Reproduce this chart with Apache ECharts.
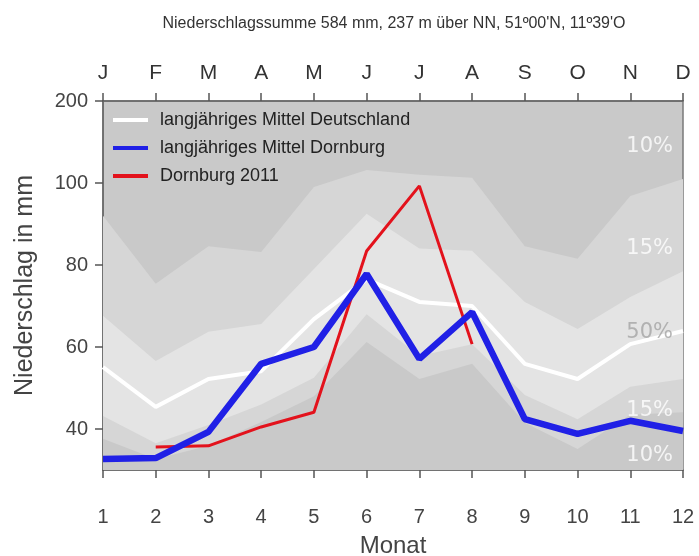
<!DOCTYPE html>
<html>
<head>
<meta charset="utf-8">
<script src="https://cdn.jsdelivr.net/npm/echarts@6/dist/echarts.min.js"></script>
<style>
  html, body { margin: 0; padding: 0; background: #ffffff; }
  #chart { width: 699px; height: 556px; }
</style>
</head>
<body>
<div id="chart"></div>
<script>
// Monthly precipitation, Dornburg (mm)
const months = [1, 2, 3, 4, 5, 6, 7, 8, 9, 10, 11, 12];
const monthLetters = ['J', 'F', 'M', 'A', 'M', 'J', 'J', 'A', 'S', 'O', 'N', 'D'];
const yTickValues = [40, 60, 80, 100, 120];
const yTickLabels = ['40', '60', '80', '100', '200'];

// percentile boundaries of the long-term distribution
const p90 = [92, 75.4, 84.6, 83.2, 99, 103.2, 102, 101.3, 84.6, 81.5, 96.8, 101];
const p75 = [67.6, 56.6, 63.7, 65.6, 79, 92.5, 84, 83.5, 71, 64.4, 72.2, 78.5];
const p25 = [43.2, 36.5, 41, 46, 52.5, 68, 57.8, 60.7, 48.3, 42.4, 50.3, 52.2];
const p10 = [37.6, 32.7, 35.9, 41.7, 48, 61.2, 52.2, 55.9, 41.5, 35.1, 43.5, 44.1];

const meanGermany = [55.1, 45.4, 52.2, 54.1, 66.8, 76.5, 71, 70, 55.9, 52.2, 60.7, 63.9];
const meanDornburg = [32.7, 32.9, 39.3, 55.9, 60, 77.8, 57.1, 68.5, 42.4, 38.8, 42, 39.5];
const dornburg2011 = [null, 35.6, 35.9, 40.5, 44.1, 83.4, 99.3, 60.7, null, null, null, null];

const bandLabels = [
  { text: '10%', value: 108.8, color: '#ffffff' },
  { text: '15%', value: 83.9, color: '#ffffff' },
  { text: '50%', value: 63.6, color: '#a4a4a4' },
  { text: '15%', value: 44.6, color: '#ffffff' },
  { text: '10%', value: 33.6, color: '#ffffff' }
];

const pairs = arr => months.map((m, i) => [m, arr[i]]);

const DARK = '#c9c9c9', MID = '#d6d6d6', LIGHT = '#e4e4e4';

function band(name, data, color) {
  return {
    name: name, type: 'line', data: pairs(data), symbol: 'none', silent: true,
    lineStyle: { width: 0 }, areaStyle: { color: color, opacity: 1, origin: 'start' },
    z: 1
  };
}

const chart = echarts.init(document.getElementById('chart'), null, { renderer: 'canvas' });

const option = {
  animation: false,
  backgroundColor: '#ffffff',
  title: {
    text: 'Niederschlagssumme 584 mm, 237 m über NN, 51º00\'N, 11º39\'O',
    left: 389, top: 11, textAlign: 'center',
    textStyle: { fontFamily: 'Liberation Sans', fontSize: 16, fontWeight: 'normal', color: '#333' }
  },
  grid: {
    left: 103, right: 16, top: 101, bottom: 86,
    outerBoundsMode: 'none', containLabel: false,
    show: true, backgroundColor: DARK, borderColor: '#7a7a7a', borderWidth: 1.5
  },
  legend: {
    left: 108, top: 105, orient: 'vertical', itemWidth: 35, itemHeight: 4, itemGap: 8,
    textStyle: { fontFamily: 'Liberation Sans', fontSize: 18, color: '#222', lineHeight: 20, padding: [0, 0, 0, 7] },
    data: [
      { name: 'langjähriges Mittel Deutschland', icon: 'rect' },
      { name: 'langjähriges Mittel Dornburg', icon: 'rect' },
      { name: 'Dornburg 2011', icon: 'rect' }
    ]
  },
  xAxis: [
    {
      type: 'value', min: 1, max: 12, interval: 1, position: 'bottom',
      name: 'Monat', nameLocation: 'middle', nameGap: 64,
      nameTextStyle: { fontFamily: 'Liberation Sans', fontSize: 24, color: '#444' },
      axisLine: { show: true, lineStyle: { color: '#666', width: 1.5 } },
      axisTick: { show: true, length: 8, lineStyle: { color: '#555', width: 1.5 } },
      axisLabel: { margin: 37, fontFamily: 'Liberation Sans', fontSize: 20, color: '#444' },
      splitLine: { show: false }
    },
    {
      type: 'value', min: 1, max: 12, interval: 1, position: 'top',
      axisLine: { show: true, lineStyle: { color: '#666', width: 1.5 } },
      axisTick: { show: true, length: 8, lineStyle: { color: '#555', width: 1.5 } },
      axisLabel: {
        margin: 17, fontFamily: 'Liberation Sans', fontSize: 21, color: '#333',
        formatter: v => monthLetters[Math.round(v) - 1]
      },
      splitLine: { show: false }
    }
  ],
  yAxis: {
    type: 'value', min: 30, max: 120,
    name: 'Niederschlag in mm', nameLocation: 'middle', nameGap: 65, nameRotate: 90,
    nameTextStyle: { fontFamily: 'Liberation Sans', fontSize: 25, color: '#444' },
    axisLine: { show: true, lineStyle: { color: '#666', width: 1.5 } },
    axisTick: { show: true, length: 8, customValues: yTickValues, lineStyle: { color: '#555', width: 1.5 } },
    axisLabel: {
      margin: 15, fontFamily: 'Liberation Sans', fontSize: 20, color: '#444',
      customValues: yTickValues,
      formatter: v => yTickLabels[yTickValues.indexOf(v)]
    },
    splitLine: { show: false }
  },
  series: [
    band('p90', p90, MID),
    band('p75', p75, LIGHT),
    band('p25', p25, MID),
    band('p10', p10, DARK),
    {
      name: 'langjähriges Mittel Deutschland', type: 'line', data: pairs(meanGermany),
      symbol: 'none', lineStyle: { color: '#ffffff', width: 4 }, itemStyle: { color: '#ffffff' }, z: 3
    },
    {
      name: 'Dornburg 2011', type: 'line', data: pairs(dornburg2011),
      symbol: 'none', lineStyle: { color: '#e3121c', width: 3 }, itemStyle: { color: '#e3121c' }, z: 4
    },
    {
      name: 'langjähriges Mittel Dornburg', type: 'line', data: pairs(meanDornburg),
      symbol: 'none', lineStyle: { color: '#2020e6', width: 6.5 }, itemStyle: { color: '#2020e6' }, z: 5
    },
    {
      name: 'bandLabels', type: 'scatter', symbolSize: 0, silent: true, z: 6,
      data: bandLabels.map(b => ({
        value: [12, b.value],
        label: {
          show: true, position: 'left', distance: 10, formatter: b.text,
          fontFamily: 'DejaVu Sans', fontSize: 21, color: b.color
        }
      }))
    }
  ]
};

chart.setOption(option);
</script>
</body>
</html>
